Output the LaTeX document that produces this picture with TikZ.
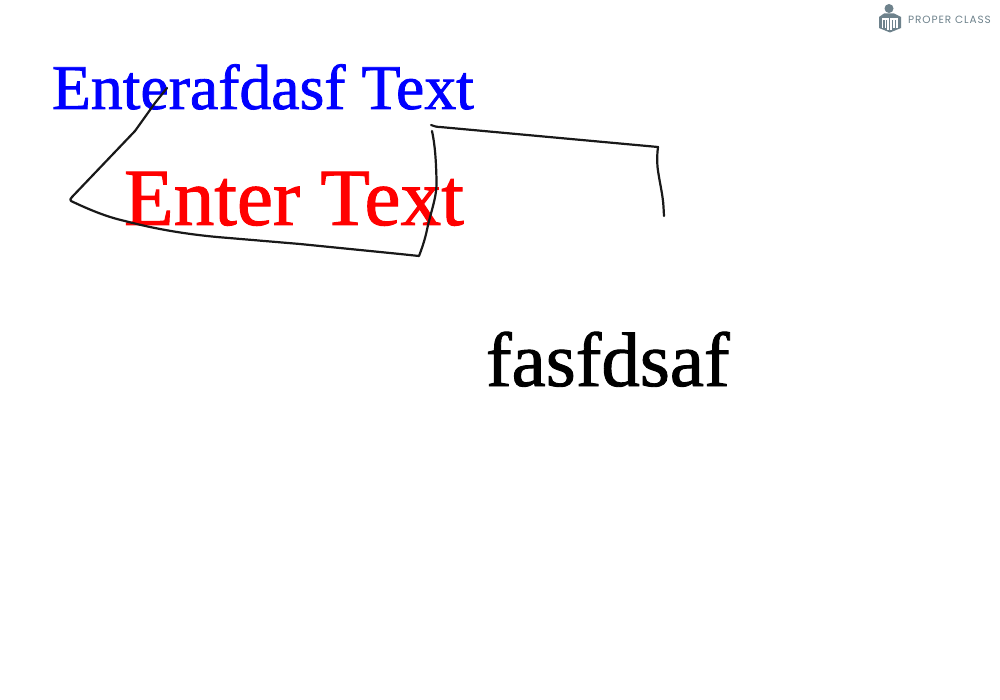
\documentclass[tikz,border=0pt]{standalone}
\usepackage{fontspec}
\setmainfont[FakeBold=1.2]{Liberation Serif}
\newfontfamily\logofont[LetterSpace=9]{Poppins}
\definecolor{logogray}{RGB}{110,130,140}
\tikzset{
  sketch/.style={draw=black!90,line width=2.2pt,line cap=round,line join=round},
  bigtext/.style={anchor=base west,inner sep=0pt,outer sep=0pt}
}
\begin{document}
\begin{tikzpicture}[x=1pt,y=-1pt]
\useasboundingbox (0,0) rectangle (1000,700);
\fill[white] (0,0) rectangle (1000,700);
% logo
\fill[logogray] (889,8.5) circle (4.5);
\fill[logogray] (879,17) -- (884,13.5) -- (894,13.5) -- (901,17) -- (901,28) -- (890,32.5) -- (879,28) -- cycle;
\draw[white,line width=1.1pt] (882.5,28) -- (882.5,19) -- (888,19) -- (888,30) (885.2,19) -- (885.2,28)
  (891,30) -- (891,19) -- (897,19) -- (897,28) (894,19) -- (894,28);
\node[bigtext,text=logogray,font=\logofont\fontsize{10.5}{11}\selectfont] (logo) at (908,23.5) {PROPER CLASS};
% texts
\node[bigtext,text=blue,font=\fontsize{63.7}{70}\selectfont] (blue) at (52,109) {Enterafdasf Text};
\node[bigtext,text=red,font=\fontsize{81.3}{90}\selectfont] (red) at (124,225) {Enter Text};
\node[bigtext,text=black,font=\fontsize{77}{85}\selectfont] (black) at (486,386) {fasfdsaf};
% strokes
\draw[sketch] (167,88) -- (155,103) -- (135,131)
  -- (72,197) .. controls (70,199) and (70,200) .. (71,201)
  .. controls (90,210) and (107,217) .. (125,221)
  .. controls (155,229) and (185,234) .. (217,237)
  -- (300,244) -- (400,254) -- (419,256)
  .. controls (424,243) and (426,235) .. (428,225)
  .. controls (433,205) and (437,195) .. (436.5,180)
  .. controls (436,160) and (435,145) .. (432,131);
\draw[sketch] (431,125) .. controls (434,126) and (436,127) .. (440,127)
  -- (658,147) .. controls (657,155) and (657,160) .. (657.5,167)
  .. controls (659,180) and (663,195) .. (663.5,207) -- (664,216);
\end{tikzpicture}
\end{document}
